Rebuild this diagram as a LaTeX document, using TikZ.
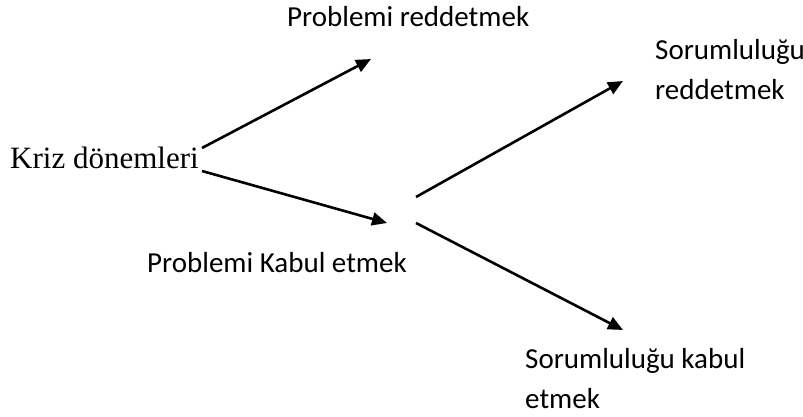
\documentclass[tikz,border=0pt]{standalone}
\usepackage{fontspec}
\setmainfont{Liberation Serif}
\newfontfamily\calib{Carlito}
\usetikzlibrary{arrows.meta}
\begin{document}
\begin{tikzpicture}[x=1pt,y=-1pt,
  lbl/.style={inner sep=0pt,anchor=base west,font=\calib\fontsize{29}{35}\selectfont,align=left},
  ser/.style={inner sep=0pt,anchor=base west,font=\fontsize{31}{36}\selectfont},
  arr/.style={line width=2.6pt,-{Triangle[length=15pt,width=13pt]}}]
\useasboundingbox (0,0) rectangle (803,417);
\node[ser] (kriz) at (10,168) {Kriz dönemleri};
\node[lbl] (pred) at (287,27) {Problemi reddetmek};
\node[lbl] (pkab) at (147,272) {Problemi Kabul etmek};
\node[lbl] (sred) at (655,100) {Sorumluluğu\\[5pt]reddetmek};
\node[lbl] (skab) at (525,408) {Sorumluluğu kabul\\[5pt]etmek};
\coordinate (a1s) at (202,148);
\coordinate (a1e) at (371,59);
\coordinate (a2s) at (202,171);
\coordinate (a2e) at (387,223);
\coordinate (a3s) at (416,197);
\coordinate (a3e) at (623,81);
\coordinate (a4s) at (416,223);
\coordinate (a4e) at (623,330);
\draw[arr] (a1s) -- (a1e);
\draw[arr] (a2s) -- (a2e);
\draw[arr] (a3s) -- (a3e);
\draw[arr] (a4s) -- (a4e);
\end{tikzpicture}
\end{document}
